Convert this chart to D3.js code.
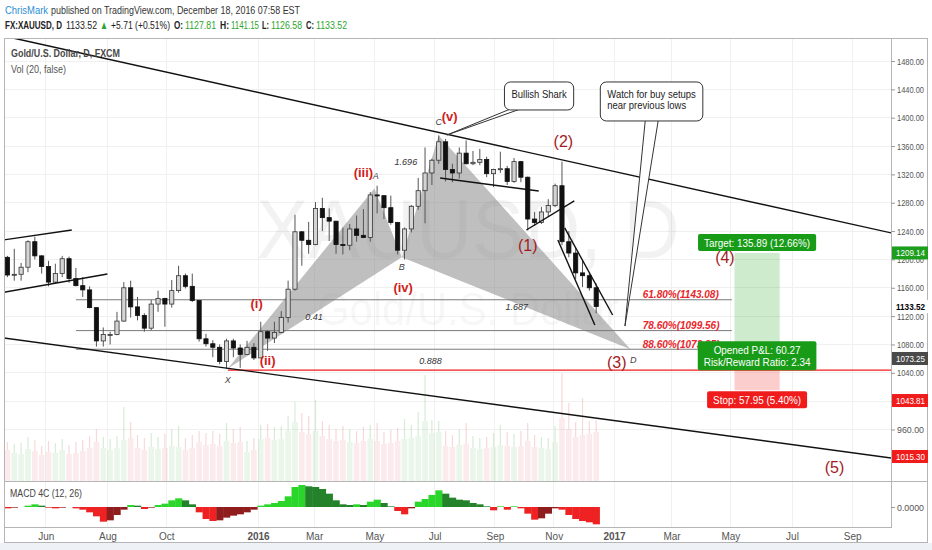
<!DOCTYPE html>
<html>
<head>
<meta charset="utf-8">
<title>XAUUSD, D</title>
<script src="https://cdn.jsdelivr.net/npm/d3@7"></script>
<style>
  body { margin: 0; background: #fff; }
  text { font-family: "Liberation Sans Narrow", "Liberation Sans", Arial, sans-serif; }
</style>
</head>
<body>
<div id="chart-area"></div>
<script>
const W = 932, H = 550
const PANE = { LEFT: 4, RIGHT: 891, TOP: 38, BOTTOM: 481 }
const MACD = { TOP: 481, BOTTOM: 527 }

// weekly bars (Monday of each week), FXCM gold
const firstWeek = "2015-04-13"
const afterLastWeek = "2016-12-13"
const opens = [1207,1203,1178,1179,1189,1225,1205,1190,1168,1180,1201,1173,1163,1157,1132,1085,1094,1094,1113,1160,1133,1121,1103,1137,1145,1137,1156,1177,1162,1142,1088,1081,1076,1056,1085,1075,1066,1076,
  1061,1098,1089,1097,1118,1158,1239,1227,1221,1272,1259,1254,1221,1220,1243,1234,1231,1291,1290,1273,1252,1213,1243,1275,1297,1322,1340,1366,1327,1322,1350,1335,1337,1341,1321,1327,1328,1310,1338,1316,1257,1252,1267,1276,1304,1225,1209,1181,1177,1160]
const highs = [1224,1205,1215,1195,1227,1232,1206,1198,1194,1205,1204,1188,1175,1162,1132,1104,1098,1126,1168,1170,1147,1124,1143,1156,1146,1171,1191,1180,1180,1142,1095,1086,1080,1088,1088,1080,1085,1082,
  1112,1100,1112,1127,1170,1263,1240,1253,1281,1287,1272,1254,1245,1250,1262,1271,1295,1304,1290,1290,1253,1245,1277,1315,1358,1342,1375,1370,1335,1358,1368,1353,1356,1345,1328,1352,1332,1343,1339,1317,1267,1274,1285,1307,1338,1240,1216,1200,1180,1166]
const lows = [1183,1175,1170,1170,1182,1200,1180,1162,1166,1175,1167,1162,1147,1131,1077,1077,1080,1093,1112,1118,1114,1098,1100,1126,1105,1132,1153,1159,1140,1084,1077,1062,1052,1046,1062,1047,1066,1058,
  1061,1071,1082,1096,1111,1156,1191,1208,1220,1240,1226,1208,1207,1213,1225,1230,1225,1265,1257,1249,1207,1200,1238,1270,1251,1305,1335,1310,1309,1314,1334,1333,1333,1316,1302,1322,1305,1308,1309,1241,1248,1250,1260,1274,1220,1203,1172,1161,1156,1124]
const closes = [1203,1178,1179,1189,1225,1205,1190,1168,1180,1201,1173,1163,1157,1132,1085,1094,1094,1113,1160,1133,1121,1103,1137,1145,1137,1156,1177,1162,1142,1088,1081,1076,1056,1085,1075,1066,1076,1061,
  1098,1089,1097,1118,1158,1239,1227,1221,1272,1259,1254,1221,1220,1243,1234,1231,1291,1290,1273,1252,1213,1243,1275,1297,1322,1340,1366,1327,1322,1350,1335,1337,1341,1321,1327,1328,1310,1338,1316,1257,1252,1267,1276,1304,1225,1209,1181,1177,1160,1133.52]
// volume (thousands): typical day of the week and busiest day of the week
const volAvg = [58,62,56,54,64,60,52,58,56,62,54,56,60,66, 78,66,62,66,82,86, 66,62,68,64,66,70,68,62,66, 78, 72,74,70,80,76,78,58,62,
  84,86,82,84, 100,118,98,94,100, 90,84,80,82, 78,76,80,84,80,74,76, 80,84,86, 90,120,96,98, 70,68,72,74,66,64,66,68,72,70,68,70,80,68,66,64, 78,126,104,88,92,94,98]
const volPeak = [80,78,74,76,88,82,70,80,76,84,72,78,82,90, 104,88,84,90,148,118, 92,86,96,88,94,104,110,86,92, 100, 96,100,94,116,104,108,80,86,
  112,114,108,110, 130,158,136,130,162, 120,112,104,110, 104,100,108,112,116,98,102, 106,124,112, 138,212,122,120, 100,92,104,116,90,86,88,96,112,98,94,100,116,92,88,86, 110,216,156,118,166,120,122]
const macdHist = [-1,-2,-1, 0,2,4,2, -1,-2,-1,0, -2,-4, -8,-14,-22,-20,-12,-4, 3,2,-3,-1,3,5,10,13,10,4, -8,-18,-21,-20,-16,-13,-11,-8,-4,
  2,4,6,9,16,30,33,31,30,27,20,10,4, 3,4,3,8,11,6,1,-6,-11,-2,8,12,18,25,20,14,11,10,6,4,1,-5,1,-4,1,-2,-10,-19,-17,-10,-2,-4,-12,-18,-21,-23,-26]

// axes
const tickDates = ["2015-06-01","2015-08-03","2015-10-01","2016-01-04","2016-03-01","2016-05-02","2016-07-01","2016-09-01","2016-11-01","2017-01-02","2017-03-01","2017-05-01","2017-07-03","2017-09-01"]
const tickLabels = ["Jun","Aug","Oct","2016","Mar","May","Jul","Sep","Nov","2017","Mar","May","Jul","Sep"]
const priceTicks = [960,1000,1040,1080,1120,1160,1200,1240,1280,1320,1360,1400,1440,1480]
const tagText = ["1209.14","1133.52","1073.25","1043.81","1015.30"]
const tagAt = [1209.14,1133.52,1060.2,1000.9,921.9]
const tagFill = ["#1e9e1e","#fff","#4a4a4a","#f01c1c","#f01c1c"]

// drawings
const trendLines = [
  ["2015-04-28",1512.5,"2017-10-13",1236.7],
  ["2015-04-17",1089.2,"2017-10-13",919.4],
  ["2015-04-17",1227.4,"2015-06-26",1241.5],
  ["2015-04-17",1153.6,"2015-08-03",1179.4],
  ["2016-07-07",1314.9,"2016-10-17",1296.6],
  ["2016-10-04",1241.5,"2016-11-22",1282.5],
  ["2016-11-04",1227.4,"2016-12-13",1107.5],
  ["2016-11-11",1244.4,"2016-12-30",1121.6]
]
const fibLevels = [1143.08,1099.56,1073.25]
const fibLabels = ["61.80%(1143.08)","78.60%(1099.56)","88.60%(1073.25)"]
const fibFrom = "2015-07-01", fibTo = "2017-05-02", fibLabelAt = "2017-01-31"
const stopLevel = 1043.81, stopFrom = "2015-12-03", stopTo = "2017-10-13"

const patternKeys = ["X","A","B","C","D"]
const patternDate = ["2015-12-03","2016-05-02","2016-05-30","2016-07-06","2017-01-18"]
const patternPrice = [1046,1300,1203,1375,1073.25]
const patternLabelDate = ["2015-12-03","2016-05-03","2016-05-30","2016-07-06","2017-01-20"]
const patternLabelPrice = [1030,1318,1190,1394,1058]
const ratioText = ["0.41","1.696","1.687","0.888"]
const ratioDate = ["2016-03-01","2016-06-02","2016-09-23","2016-06-28"]
const ratioPrice = [1118.8,1337.5,1132.9,1056.7]

const waveText = ["(i)","(ii)","(iii)","(iv)","(v)"]
const waveDate = ["2016-01-01","2016-01-13","2016-04-20","2016-05-31","2016-07-18"]
const wavePrice = [1138.5,1058,1322,1160,1401]
const bigWaveText = ["(1)","(2)","(3)","(4)","(5)"]
const bigWaveDate = ["2016-10-05","2016-11-10","2017-01-04","2017-04-25","2017-08-15"]
const bigWavePrice = [1219,1365.7,1053.9,1203.4,905.7]

const calloutLines = [["Bullish Shark"], ["Watch for buy setups", "near previous lows"]]
const calloutTipDate = ["2016-07-14","2017-01-12"]
const calloutTipPrice = [1375.6,1106]
const calloutBoxDate = ["2016-09-12","2016-12-19"]
const calloutBoxPrice = [1450.4,1450.4]

const entry = 1073.25, target = 1209.14, stop = 1015.30
const posFrom = "2017-05-04", posTo = "2017-06-20"
const targetText = "Target: 135.89 (12.66%)"
const pnlText = ["Opened P&L: 60.27", "Risk/Reward Ratio: 2.34"]
const stopText = "Stop: 57.95 (5.40%)"

// ---- helpers ----
const parseDate = d3.timeParse("%Y-%m-%d")
const REF = parseDate("2016-01-04")
// count of weekday bars from REF (TradingView spaces bars, not calendar days)
function tradingIndex(d) {
  const days = d3.timeDay.count(REF, d)
  const wk = Math.floor(days / 7)
  return wk * 5 + Math.min(days - wk * 7, 5)
}
// the published picture uses a narrow UI font: squeeze a text to that width
const NARROW = 0.86
function squeeze(sel) {
  const len = sel.node().getComputedTextLength()
  sel.attr("textLength", len * NARROW).attr("lengthAdjust", "spacingAndGlyphs")
  return len * NARROW
}

const x = d3.scaleLinear()
  .domain([0, tradingIndex(parseDate("2017-01-02"))])
  .range([258, 614])
const y = d3.scaleLinear().domain([960, 1480]).range([429.5, 61])
const yVol = d3.scaleLinear().domain([0, 220]).range([481, 371])
const yMacd = d3.scaleLinear().domain([-30, 36]).range([527, 483])
const xd = s => x(tradingIndex(typeof s === "string" ? parseDate(s) : s))
const step = x(1) - x(0)

const weeks = d3.timeMonday.range(parseDate(firstWeek), parseDate(afterLastWeek))
const bars = weeks.map((w, i) => ({
  c: tradingIndex(w) + 2, o: opens[i], h: highs[i], l: lows[i], cl: closes[i],
  va: volAvg[i], vp: volPeak[i], m: macdHist[i]
}))

const svg = d3.select("#chart-area").append("svg")
  .attr("width", W).attr("height", H).style("display", "block")

svg.append("rect").attr("width", W).attr("height", H).attr("fill", "#fff")
svg.append("rect").attr("y", 543).attr("width", W).attr("height", H - 543).attr("fill", "#eef1f6")

const defs = svg.append("defs")
defs.append("clipPath").attr("id", "clip-main").append("rect")
  .attr("x", PANE.LEFT).attr("y", PANE.TOP)
  .attr("width", PANE.RIGHT - PANE.LEFT).attr("height", PANE.BOTTOM - PANE.TOP)
defs.append("clipPath").attr("id", "clip-macd").append("rect")
  .attr("x", PANE.LEFT).attr("y", MACD.TOP)
  .attr("width", PANE.RIGHT - PANE.LEFT).attr("height", MACD.BOTTOM - MACD.TOP)

// grid
const grid = svg.append("g").attr("stroke", "#f0f0f0").attr("shape-rendering", "crispEdges")
grid.selectAll(".vg").data(tickDates).join("line").attr("class", "vg")
  .attr("x1", d => xd(d)).attr("x2", d => xd(d))
  .attr("y1", PANE.TOP).attr("y2", MACD.BOTTOM)
grid.selectAll(".hg").data(priceTicks).join("line").attr("class", "hg")
  .attr("x1", PANE.LEFT).attr("x2", PANE.RIGHT)
  .attr("y1", d => y(d)).attr("y2", d => y(d))

// watermark
const mid = (PANE.LEFT + W) / 2
svg.append("text").attr("x", mid).attr("y", 258).attr("text-anchor", "middle")
  .attr("font-size", 84).attr("fill", "#000").attr("fill-opacity", 0.05)
  .attr("textLength", 423).attr("lengthAdjust", "spacingAndGlyphs")
  .text("XAUUSD, D")
svg.append("text").attr("x", mid).attr("y", 325).attr("text-anchor", "middle")
  .attr("font-size", 46).attr("fill", "#000").attr("fill-opacity", 0.05)
  .attr("textLength", 302).attr("lengthAdjust", "spacingAndGlyphs")
  .text("Gold/U.S. Dollar")

const main = svg.append("g").attr("clip-path", "url(#clip-main)")

// volume
const volColor = d => d.cl >= d.o ? "#2fa52f" : "#e03a40"
main.append("g").selectAll("rect").data(bars).join("rect")
  .attr("x", d => x(d.c) - 2.5 * step + 0.6).attr("width", 5 * step - 1.2)
  .attr("y", d => yVol(d.va)).attr("height", d => yVol(0) - yVol(d.va))
  .attr("fill", volColor).attr("fill-opacity", 0.1)
main.append("g").selectAll("line").data(bars).join("line")
  .attr("x1", d => x(d.c)).attr("x2", d => x(d.c))
  .attr("y1", d => yVol(d.va)).attr("y2", d => yVol(d.vp))
  .attr("stroke", volColor).attr("stroke-opacity", 0.2).attr("stroke-width", 1.2)

// shark pattern
const P = patternKeys.map((k, i) => [xd(patternDate[i]), y(patternPrice[i])])
const tri = d3.line()
main.append("path")
  .attr("d", tri([P[0], P[1], P[2]]) + "Z" + tri([P[2], P[3], P[4]]) + "Z")
  .attr("fill", "#8a8a8a").attr("fill-opacity", 0.55)

// fib levels and stop line
main.append("g").selectAll("line").data(fibLevels).join("line")
  .attr("x1", xd(fibFrom)).attr("x2", xd(fibTo))
  .attr("y1", d => y(d)).attr("y2", d => y(d))
  .attr("stroke", "#7a7a7a").attr("stroke-width", 1)
main.append("line")
  .attr("x1", xd(stopFrom)).attr("x2", xd(stopTo))
  .attr("y1", y(stopLevel)).attr("y2", y(stopLevel))
  .attr("stroke", "#f21d1d").attr("stroke-width", 1.2)

// candles
const up = d => d.cl >= d.o
const candles = main.append("g")
candles.selectAll("line").data(bars).join("line")
  .attr("x1", d => x(d.c)).attr("x2", d => x(d.c))
  .attr("y1", d => y(d.h)).attr("y2", d => y(d.l))
  .attr("stroke", "#555").attr("stroke-width", 1)
candles.selectAll("rect").data(bars).join("rect")
  .attr("x", d => x(d.c) - 2.1).attr("width", 4.2)
  .attr("y", d => y(Math.max(d.o, d.cl)))
  .attr("height", d => Math.max(1, Math.abs(y(d.o) - y(d.cl))))
  .attr("fill", d => up(d) ? "#d4d4d4" : "#111")
  .attr("stroke", d => up(d) ? "#333" : "#111").attr("stroke-width", 0.8)

// trend lines
main.append("g").selectAll("line").data(trendLines).join("line")
  .attr("x1", d => xd(d[0])).attr("y1", d => y(d[1]))
  .attr("x2", d => xd(d[2])).attr("y2", d => y(d[3]))
  .attr("stroke", "#111").attr("stroke-width", 1.4)

// long position tool
const px0 = xd(posFrom), px1 = xd(posTo), pxc = (px0 + px1) / 2
main.append("rect").attr("x", px0).attr("width", px1 - px0)
  .attr("y", y(target)).attr("height", y(entry) - y(target))
  .attr("fill", "#1fa31f").attr("fill-opacity", 0.22)
main.append("rect").attr("x", px0).attr("width", px1 - px0)
  .attr("y", y(entry)).attr("height", y(stop) - y(entry))
  .attr("fill", "#f01c1c").attr("fill-opacity", 0.22)

// text marks on the chart
const labels = svg.append("g")
labels.selectAll(".ptl").data(patternKeys).join("text").attr("class", "ptl")
  .attr("x", (d, i) => xd(patternLabelDate[i])).attr("y", (d, i) => y(patternLabelPrice[i]))
  .attr("text-anchor", "middle").attr("dominant-baseline", "central")
  .attr("font-size", 9).attr("font-style", "italic").attr("fill", "#444")
  .text(d => d)
labels.selectAll(".rt").data(ratioText).join("text").attr("class", "rt")
  .attr("x", (d, i) => xd(ratioDate[i])).attr("y", (d, i) => y(ratioPrice[i]))
  .attr("text-anchor", "middle").attr("dominant-baseline", "central")
  .attr("font-size", 9).attr("font-style", "italic").attr("fill", "#333")
  .text(d => d)
labels.selectAll(".wv").data(waveText).join("text").attr("class", "wv")
  .attr("x", (d, i) => xd(waveDate[i])).attr("y", (d, i) => y(wavePrice[i]))
  .attr("text-anchor", "middle").attr("dominant-baseline", "central")
  .attr("font-size", 13).attr("font-weight", "bold").attr("fill", "#cf1f22")
  .text(d => d)
labels.selectAll(".bw").data(bigWaveText).join("text").attr("class", "bw")
  .attr("x", (d, i) => xd(bigWaveDate[i])).attr("y", (d, i) => y(bigWavePrice[i]))
  .attr("text-anchor", "middle").attr("dominant-baseline", "central")
  .attr("font-family", "Liberation Sans, Arial, sans-serif")
  .attr("font-size", 16).attr("fill", "#a31b1e")
  .text(d => d)
labels.selectAll(".fib").data(fibLabels).join("text").attr("class", "fib")
  .attr("x", xd(fibLabelAt)).attr("y", (d, i) => y(fibLevels[i]) - 1.5)
  .attr("font-family", "Liberation Sans, Arial, sans-serif")
  .attr("font-size", 10).attr("font-weight", "bold").attr("font-style", "italic").attr("fill", "#e8262b")
  .text(d => d)

// callouts
calloutLines.forEach((lines, i) => {
  const g = svg.append("g")
  const bx = xd(calloutBoxDate[i]), by = y(calloutBoxPrice[i])
  const tx = xd(calloutTipDate[i]), ty = y(calloutTipPrice[i])
  let tw = 0
  lines.forEach((s, j) => {
    const t = g.append("text").attr("x", bx + 7).attr("y", by + 16 + j * 11)
      .attr("font-family", "Liberation Sans, Arial, sans-serif")
      .attr("font-size", 11).attr("fill", "#222").text(s)
    tw = Math.max(tw, squeeze(t))
  })
  const bw = tw + 14, bh = 17 + 11 * lines.length
  const b0 = i === 0 ? 6 : 45, b1 = i === 0 ? 16 : 58
  g.insert("path", "text")
    .attr("d", `M${bx + b0},${by + bh - 1}L${tx},${ty}L${bx + b1},${by + bh - 1}`)
    .attr("fill", "#fff").attr("stroke", "#333").attr("stroke-width", 1)
  g.insert("rect", "text").attr("x", bx).attr("y", by).attr("width", bw).attr("height", bh)
    .attr("rx", 6).attr("fill", "#fff").attr("stroke", "#333").attr("stroke-width", 1)
})

// position labels
function tagBox(lines, cx, top, fill) {
  const g = svg.append("g")
  let tw = 0
  lines.forEach((s, j) => {
    const t = g.append("text").attr("x", cx).attr("y", top + 13 + j * 12)
      .attr("text-anchor", "middle").attr("fill", "#fff")
      .attr("font-family", "Liberation Sans, Arial, sans-serif").attr("font-size", 11.5).text(s)
    tw = Math.max(tw, squeeze(t))
  })
  const w = tw + 12
  g.insert("rect", "text").attr("x", cx - w / 2).attr("y", top).attr("width", w)
    .attr("height", 5 + 12 * lines.length).attr("rx", 2).attr("fill", fill)
}
tagBox([targetText], pxc, y(target) - 19, "#189c18")
tagBox(pnlText, pxc, y(entry) - 8, "#189c18")
tagBox([stopText], pxc, y(stop) + 1, "#f01c1c")

// legend text inside the pane
svg.append("text").attr("x", 11).attr("y", 57).attr("font-size", 11).attr("font-weight", "bold")
  .attr("fill", "#4a4a4a").attr("textLength", 109).attr("lengthAdjust", "spacingAndGlyphs")
  .text("Gold/U.S. Dollar, D, FXCM")
svg.append("text").attr("x", 11).attr("y", 73).attr("font-size", 11)
  .attr("fill", "#555").attr("textLength", 55).attr("lengthAdjust", "spacingAndGlyphs")
  .text("Vol (20, false)")

// MACD pane
const macdG = svg.append("g").attr("clip-path", "url(#clip-macd)")
macdG.selectAll("rect").data(bars).join("rect")
  .attr("x", d => x(d.c) - 2.5 * step).attr("width", 5 * step + 0.3)
  .attr("y", d => yMacd(Math.max(0, d.m)))
  .attr("height", d => Math.abs(yMacd(d.m) - yMacd(0)))
  .attr("fill", (d, i) => {
    const prev = i ? bars[i - 1].m : d.m
    if (d.m >= 0) return d.m >= prev ? "#2bd62b" : "#23822a"
    return d.m <= prev ? "#ee2222" : "#8f1d1d"
  })
svg.append("text").attr("x", 10).attr("y", 497).attr("font-size", 10).attr("fill", "#444")
  .attr("textLength", 72).attr("lengthAdjust", "spacingAndGlyphs")
  .text("MACD 4C (12, 26)")

// frames
const frame = svg.append("g").attr("fill", "none").attr("stroke", "#b5b5b5").attr("shape-rendering", "crispEdges")
frame.append("rect").attr("x", 4.5).attr("y", 38.5).attr("width", 923).attr("height", 504)
frame.append("line").attr("x1", 891.5).attr("x2", 891.5).attr("y1", PANE.TOP).attr("y2", MACD.BOTTOM)
frame.append("line").attr("x1", PANE.LEFT).attr("x2", 928).attr("y1", 481.5).attr("y2", 481.5)
frame.append("line").attr("x1", PANE.LEFT).attr("x2", 892).attr("y1", 527.5).attr("y2", 527.5)

// price axis
function styleAxis(g) {
  g.select(".domain").remove()
  g.selectAll("line").attr("stroke", "#999")
  g.selectAll("text").attr("fill", "#555").attr("font-size", 9.5)
    .attr("textLength", 27).attr("lengthAdjust", "spacingAndGlyphs")
}
svg.append("g").attr("transform", `translate(${PANE.RIGHT}, 0)`)
  .call(d3.axisRight(y).tickValues(priceTicks).tickFormat(d3.format(".2f")).tickSize(4).tickPadding(2))
  .call(styleAxis)
svg.append("g").attr("transform", `translate(${PANE.RIGHT}, 0)`)
  .call(d3.axisRight(yMacd).tickValues([0]).tickFormat(d3.format(".4f")).tickSize(4).tickPadding(2))
  .call(styleAxis)

// price tags on the axis
const tags = svg.append("g").selectAll("g").data(tagText).join("g")
  .attr("transform", (d, i) => `translate(892, ${y(tagAt[i])})`)
tags.append("rect").attr("y", -6.5).attr("width", 36).attr("height", 13)
  .attr("fill", (d, i) => tagFill[i])
tags.append("text").attr("x", 4).attr("dy", "0.35em").attr("font-size", 9.5)
  .attr("textLength", 29).attr("lengthAdjust", "spacingAndGlyphs")
  .attr("font-weight", (d, i) => i === 1 ? "bold" : "normal")
  .attr("fill", (d, i) => i === 1 ? "#000" : "#fff")
  .text(d => d)

// time axis
const xAxis = svg.append("g").attr("transform", `translate(0, ${MACD.BOTTOM})`)
  .call(d3.axisBottom(x).tickValues(tickDates.map(s => tradingIndex(parseDate(s))))
    .tickFormat((d, i) => tickLabels[i]).tickSize(0).tickPadding(6))
xAxis.select(".domain").remove()
xAxis.selectAll("text").attr("fill", "#555").attr("font-size", 10)
  .attr("font-weight", (d, i) => /^\d{4}$/.test(tickLabels[i]) ? "bold" : "normal")

// header
const head = svg.append("g").attr("font-size", 11.5)
function headText(s, x0, w, row, color, bold) {
  head.append("text").attr("x", x0).attr("y", row ? 29 : 14)
    .attr("fill", color).attr("font-weight", bold ? "bold" : "normal")
    .attr("textLength", w).attr("lengthAdjust", "spacingAndGlyphs").text(s)
}
const green = "#2da52d", ink = "#222"
headText("ChrisMark", 5, 43, 0, "#2c8fd6")
headText("published on TradingView.com, December 18, 2016 07:58 EST", 51, 249, 0, "#333")
headText("FX:XAUUSD, D", 5, 57, 1, ink, true)
headText("1133.52", 66, 31, 1, ink)
headText("▲", 100, 8, 1, green)
headText("+5.71 (+0.51%)", 111, 59, 1, ink)
headText("O:", 174, 9, 1, ink, true)
headText("1127.81", 185, 31, 1, green)
headText("H:", 220, 9, 1, ink, true)
headText("1141.15", 231, 28, 1, green)
headText("L:", 262, 7, 1, ink, true)
headText("1126.58", 271, 31, 1, green)
headText("C:", 306, 8, 1, ink, true)
headText("1133.52", 316, 31, 1, green)
</script>
</body>
</html>
